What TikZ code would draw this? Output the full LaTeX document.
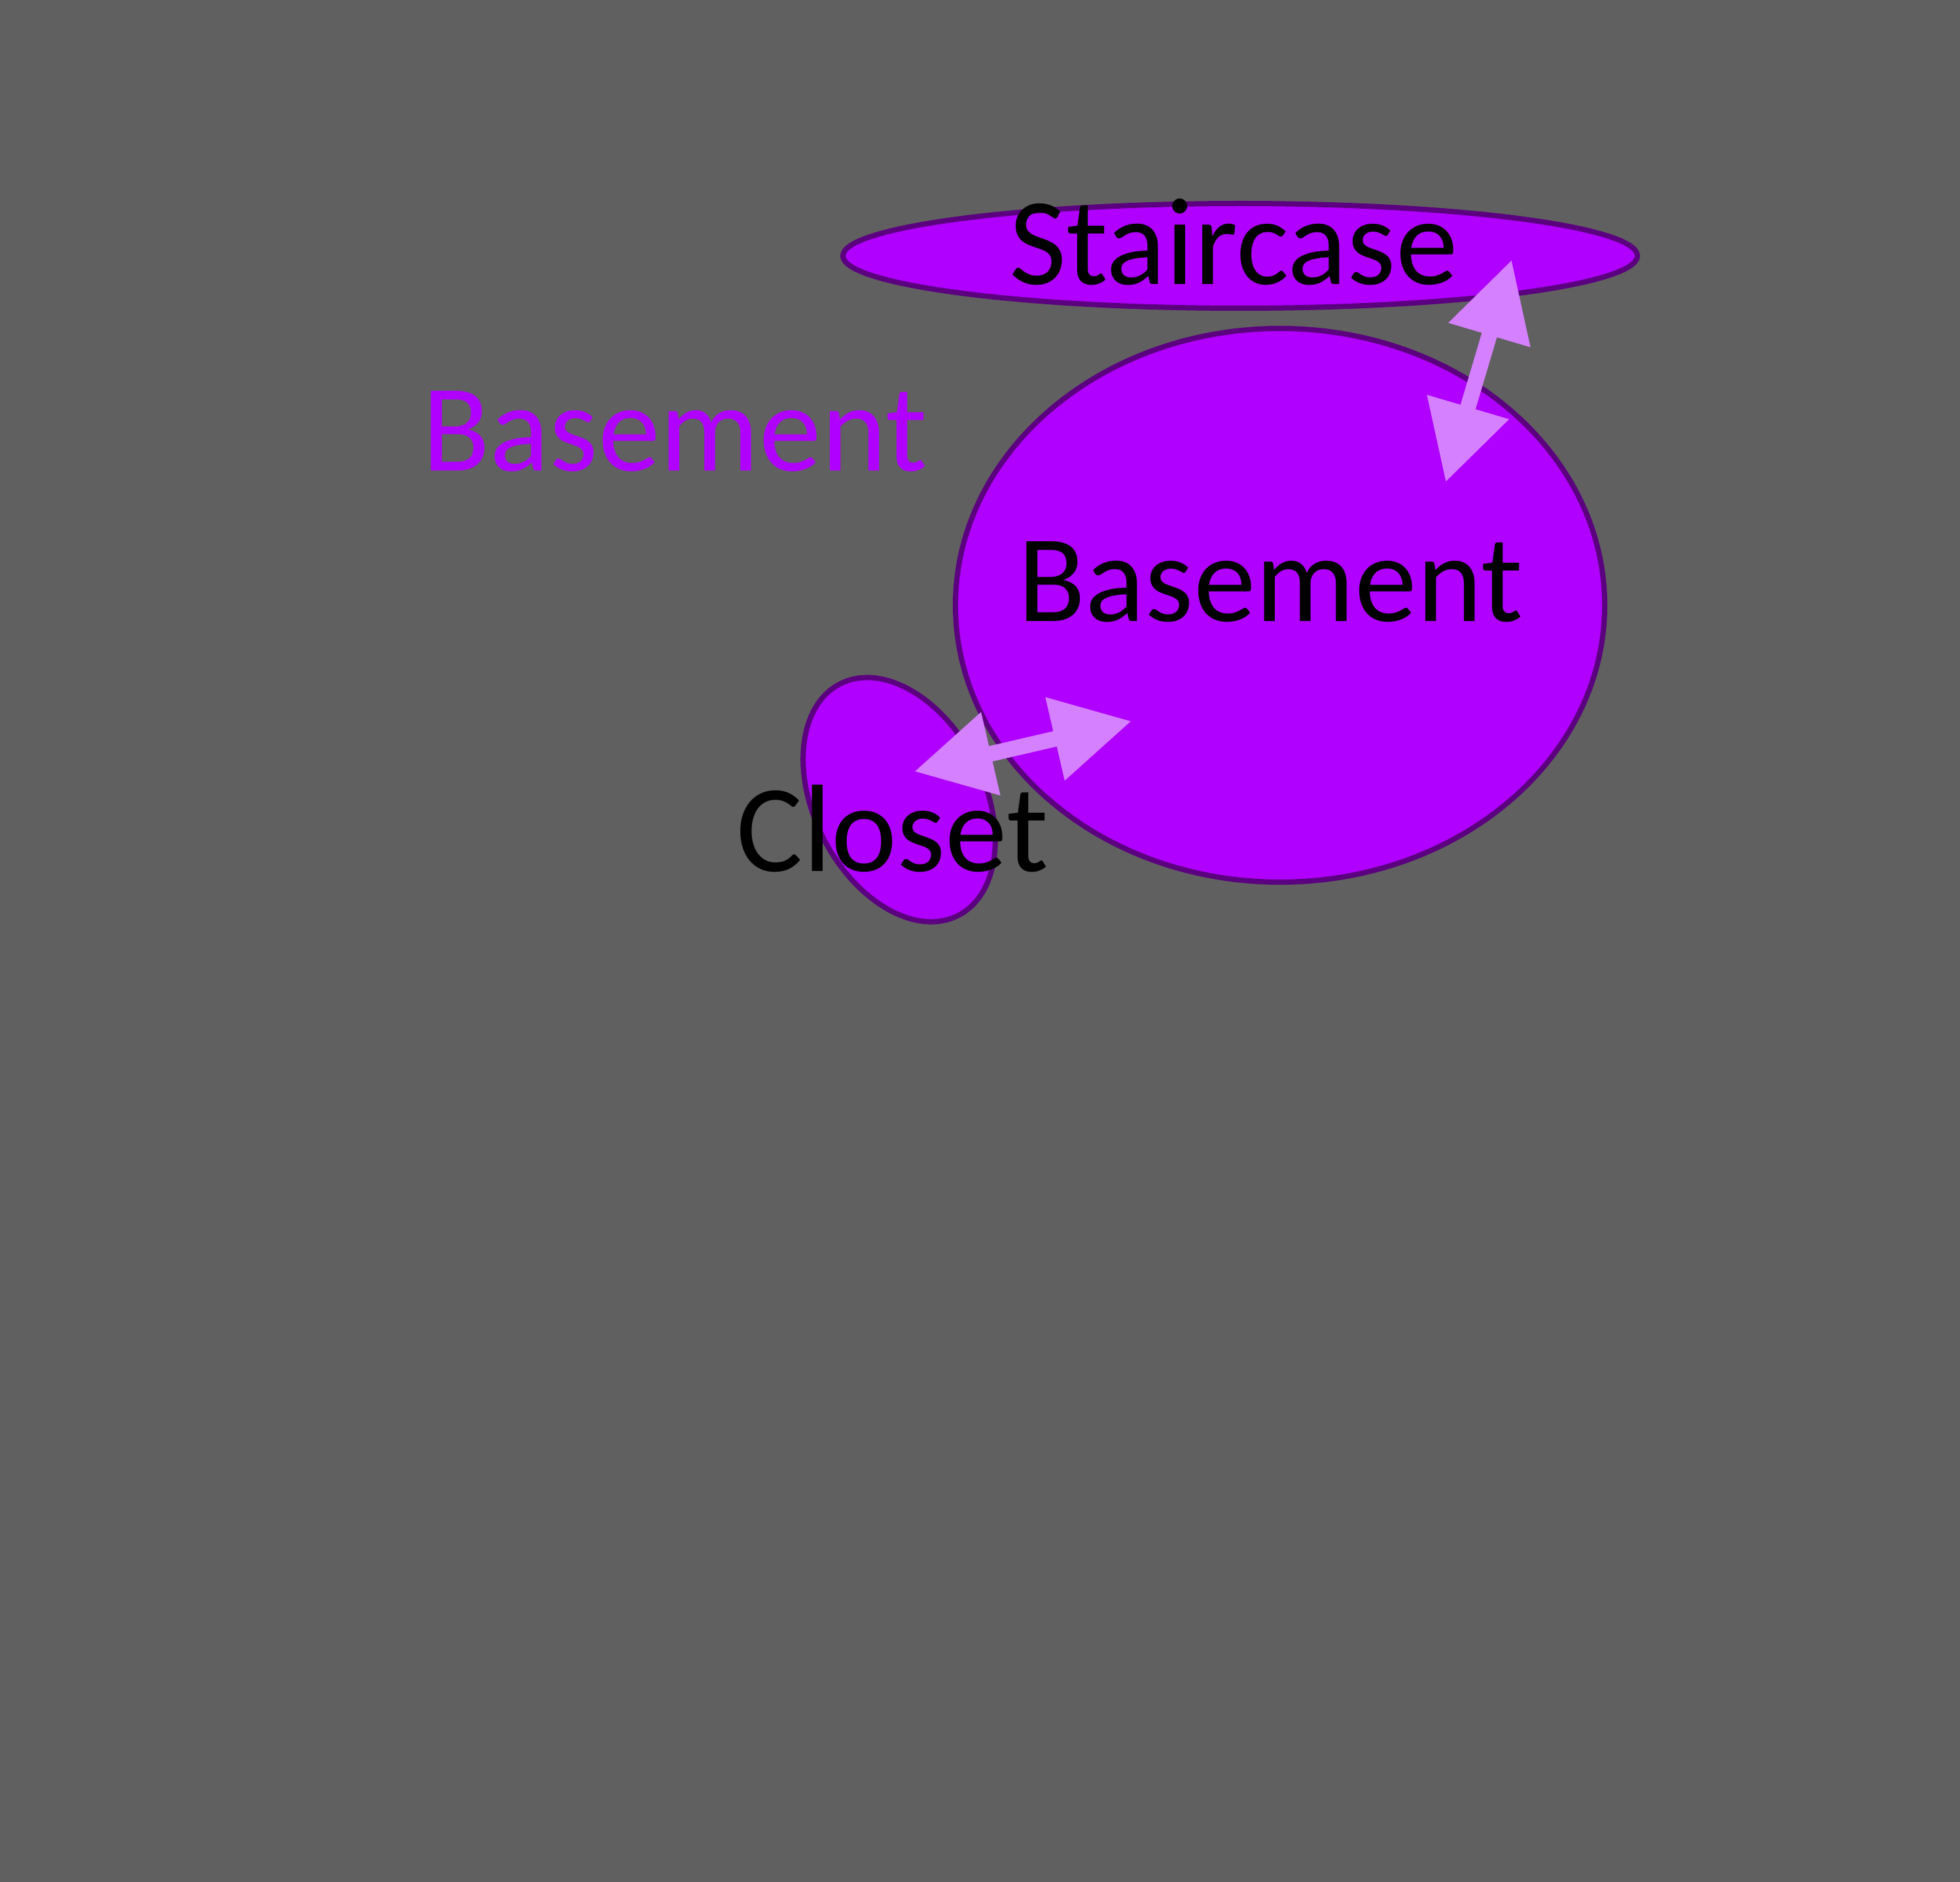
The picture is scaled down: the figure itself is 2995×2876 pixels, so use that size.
\documentclass[tikz,border=0pt]{standalone}
\usepackage{fontspec}
\setmainfont{Carlito}
\usetikzlibrary{arrows.meta, positioning, shapes.geometric, calc}
\definecolor{cback}{HTML}{606060}
\definecolor{croom}{HTML}{B000FF}
\definecolor{cedge}{HTML}{5B007F}
\definecolor{cdoor}{HTML}{D580FF}
\tikzset{
  every picture/.style={font=\fontsize{47.5}{57}\selectfont, x=0.25pt, y=0.25pt},
  room/.style={ellipse, draw=cedge, fill=croom, line width=2pt, inner sep=0pt},
  roomname/.style={anchor=base, inner sep=0pt, text=black},
  floorname/.style={anchor=base, inner sep=0pt, text=croom},
  door/.style={{Triangle[length=30pt, width=31pt]}-{Triangle[length=30pt, width=31pt]}, draw=cdoor, line width=6pt},
}

\begin{document}
\begin{tikzpicture}
  \fill[cback] (0,0) rectangle (2995,-2876);
  \useasboundingbox (0,0) rectangle (2995,-2876);
  \node[room, minimum width=303.5pt, minimum height=40pt] (stair) at (1895,-391) {};
  \node[room, minimum width=248pt, minimum height=211.5pt] (base) at (1956,-925) {};
  \node[room, minimum width=65pt, minimum height=99.3pt, rotate=27] (closet) at (1374,-1222) {};
  \node[roomname] (stairtext) at (1885,-435) {Staircase};
  \node[roomname] (basetext) at (1941,-949) {Basement};
  \node[roomname] (closettext) at (1364,-1331) {Closet};
  \node[floorname] (floor) at (1031,-720) {Basement};
  % door positions
  \coordinate (stairdoor) at ($(stair.center)+(415,-6)$);
  \coordinate (basedoor1) at ($(base.center)+(253,188)$);
  \coordinate (basedoor2) at ($(base.center)+(-227,-177)$);
  \coordinate (closetdoor) at ($(closet.center)+(23,43)$);
  \draw[door] (basedoor1) -- (stairdoor);
  \draw[door] (closetdoor) -- (basedoor2);
\end{tikzpicture}
\end{document}
